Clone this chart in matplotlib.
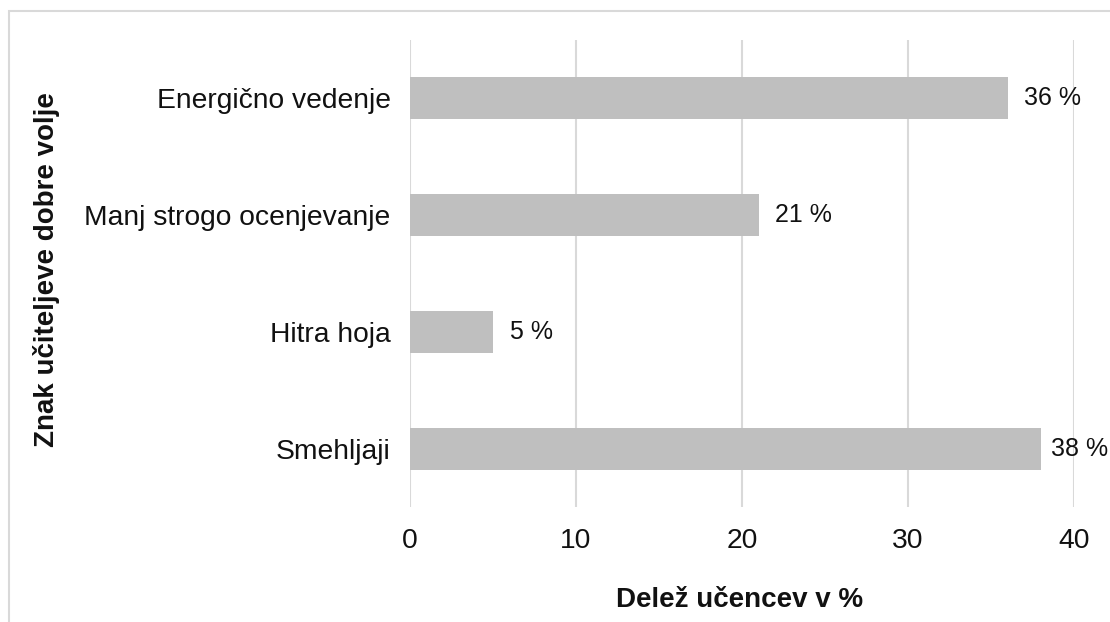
import matplotlib
matplotlib.use('Agg')
import matplotlib.pyplot as plt
from matplotlib.patches import Rectangle

categories = ['Smehljaji', 'Hitra hoja', 'Manj strogo ocenjevanje', 'Energično vedenje']
values = [38, 5, 21, 36]
ticks = [0, 10, 20, 30, 40]

plt.rcParams['font.family'] = ['Liberation Sans', 'DejaVu Sans']

W, H = 1110, 622
fig = plt.figure(figsize=(W / 100, H / 100), dpi=100)
ax = fig.add_axes([410 / W, 1 - 507 / H, (1074 - 410) / W, (507 - 40) / H])

ypos = range(len(categories))
ax.barh(ypos, values, height=0.36, color='#bfbfbf', zorder=3)
for y, v in zip(ypos, values):
    # labels are pushed back inside the chart when they would run off the edge
    ax.text(min(v + 1.0, 38.6), y, '{} %'.format(v), va='center', ha='left',
            fontsize=18, color='#111111')

ax.set_xlim(0, 40)
ax.set_ylim(-0.5, 3.5)
ax.set_xticks(ticks)
ax.set_yticks(list(ypos))
ax.set_yticklabels(categories)
ax.tick_params(axis='x', length=0, pad=15, labelsize=20.3, labelcolor='#111111')
ax.tick_params(axis='y', length=0, pad=14, labelsize=20.3, labelcolor='#111111')
ax.grid(True, axis='x', color='#d9d9d9', linewidth=1.5, zorder=0)
for s in ax.spines.values():
    s.set_visible(False)

fig.text(740 / W, 1 - 600 / H, 'Delež učencev v %', ha='center', va='center',
         fontsize=20, fontweight='bold', color='#111111')
fig.text(47 / W, 1 - 270 / H, 'Znak učiteljeve dobre volje', ha='center', va='center',
         rotation=90, fontsize=20, fontweight='bold', color='#111111')

# light frame, cropped at right and bottom
fig.add_artist(Rectangle((9 / W, -0.1), 1.2, 1 - 11 / H + 0.1, transform=fig.transFigure,
                         fill=False, edgecolor='#d9d9d9', linewidth=1.5))

fig.savefig('out.png', dpi=100)
